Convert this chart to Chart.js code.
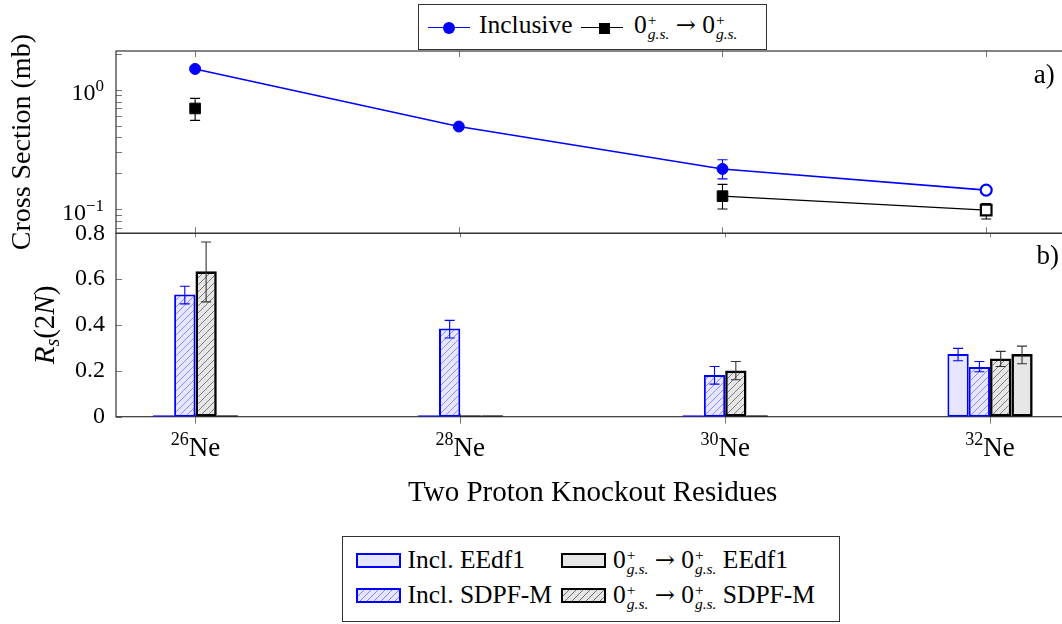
<!DOCTYPE html>
<html>
<head>
<meta charset="utf-8">
<title>Two proton knockout - Ne isotopes</title>
<script src="https://cdn.jsdelivr.net/npm/chart.js@4/dist/chart.umd.min.js"></script>
<style>
  html, body { margin: 0; padding: 0; background: #fff; overflow: hidden; }
  body { width: 1062px; height: 624px; position: relative; font-family: "Liberation Serif", serif; color: #000; }
  canvas { position: absolute; left: 0; top: 0; }
  .legend { position: absolute; box-sizing: border-box; border: 1px solid #333; background: #fff; font-size: 25.5px; }
  #legendTop { left: 418px; top: 4px; width: 349px; height: 46px; }
  #legendBottom { left: 342px; top: 536px; width: 498px; height: 86px; }
  .legend .txt { position: absolute; white-space: nowrap; line-height: 28px; height: 28px; }
  .legend .ln { position: absolute; height: 0; width: 42px; border-top: 1.8px solid; }
  .legend .mk { position: absolute; box-sizing: border-box; }
  .legend .sw { position: absolute; box-sizing: border-box; width: 45px; height: 15px; }
  .ss { display: inline-block; vertical-align: -6px; font-size: 15.5px; line-height: 14px; margin-left: 1px; }
  .ss span { display: block; }
  .arr { font-family: "DejaVu Serif", serif; font-size: 24px; }
</style>
</head>
<body>
<canvas id="panelA" width="1075" height="624"></canvas>
<canvas id="panelB" width="1075" height="624"></canvas>
<div id="legendTop" class="legend"></div>
<div id="legendBottom" class="legend"></div>
<script>
// ---- data ----
var massNumbers = [26, 28, 30, 32];
var element = "Ne";

// a) cross sections in mb
var inclusive   = [1.50, 0.494, 0.218, 0.145];
var inclusiveLo = [null, null, 0.180, null];
var inclusiveHi = [null, null, 0.260, null];
var gsToGs      = [0.70, null, 0.129, 0.0986];
var gsToGsLo    = [0.556, null, 0.1007, 0.083];
var gsToGsHi    = [0.85, null, 0.162, 0.112];
var openMarker  = [false, false, false, true];
var lineLabels  = ["Inclusive", "0+g.s. \u2192 0+g.s."];

// b) R_s(2N)
var inclEEdf1   = [0, 0, 0, 0.273];
var inclEEdf1Lo = [null, null, null, 0.244];
var inclEEdf1Hi = [null, null, null, 0.298];
var inclSDPFM   = [0.533, 0.385, 0.182, 0.217];
var inclSDPFMLo = [0.492, 0.343, 0.142, 0.196];
var inclSDPFMHi = [0.569, 0.420, 0.219, 0.241];
var gsSDPFM     = [0.634, 0, 0.201, 0.254];
var gsSDPFMLo   = [0.501, null, 0.161, 0.219];
var gsSDPFMHi   = [0.762, null, 0.241, 0.285];
var gsEEdf1     = [0, 0, 0, 0.273];
var gsEEdf1Lo   = [null, null, null, 0.231];
var gsEEdf1Hi   = [null, null, null, 0.308];
var barLabels   = ["Incl. EEdf1", "Incl. SDPF-M", "0+g.s. \u2192 0+g.s. SDPF-M", "0+g.s. \u2192 0+g.s. EEdf1"];

// axes
var xRange = [25.4, 32.6];
var sigmaRange = [0.063, 2.12];
var sigmaTickLabels = [1, 0.1];
var rsRange = [0, 0.8];
var rsStep = 0.2;

// ---- helpers ----
var FONT = '"Liberation Serif", serif';
Chart.defaults.font.family = FONT;
Chart.defaults.color = "#000";

function points(vals) {
    return massNumbers.map(function (m, i) { return { x: m, y: vals[i] }; });
}

function hatch(bg, line) {
    var c = document.createElement("canvas");
    c.width = c.height = 7;
    var g = c.getContext("2d");
    g.fillStyle = bg;
    g.fillRect(0, 0, 7, 7);
    g.strokeStyle = line;
    g.lineWidth = 0.9;
    g.beginPath();
    g.moveTo(-1, 8); g.lineTo(8, -1);
    g.moveTo(-1, 1); g.lineTo(1, -1);
    g.moveTo(6, 8); g.lineTo(8, 6);
    g.stroke();
    return g.createPattern(c, "repeat");
}

function richText(ctx, parts, x, y, align) {
    var total = 0, widths = [];
    parts.forEach(function (p) {
        ctx.font = (p.it ? "italic " : "") + p.s + "px " + FONT;
        var w = ctx.measureText(p.t).width;
        widths.push(w);
        total += w;
    });
    var cx = align === "center" ? x - total / 2 : (align === "right" ? x - total : x);
    ctx.textAlign = "left";
    ctx.textBaseline = "alphabetic";
    parts.forEach(function (p, i) {
        ctx.font = (p.it ? "italic " : "") + p.s + "px " + FONT;
        ctx.fillText(p.t, cx, y + (p.dy || 0));
        cx += widths[i];
    });
}

function drawErrors(chart) {
    var ctx = chart.ctx;
    chart.data.datasets.forEach(function (ds, i) {
        if (!ds.errLo) return;
        var meta = chart.getDatasetMeta(i), ys = meta.vScale;
        ctx.save();
        ctx.strokeStyle = ds.errColor;
        ctx.lineWidth = 1.1;
        ctx.beginPath();
        meta.data.forEach(function (el, j) {
            if (ds.errLo[j] == null) return;
            var x = el.x, y1 = ys.getPixelForValue(ds.errLo[j]), y2 = ys.getPixelForValue(ds.errHi[j]);
            ctx.moveTo(x, y1); ctx.lineTo(x, y2);
            ctx.moveTo(x - 5, y1); ctx.lineTo(x + 5, y1);
            ctx.moveTo(x - 5, y2); ctx.lineTo(x + 5, y2);
        });
        ctx.stroke();
        ctx.restore();
    });
}

var errorBars = {
    id: "errorBars",
    beforeDatasetsDraw: function (chart, args, opts) { if (!opts.onTop) drawErrors(chart); },
    afterDatasetsDraw: function (chart, args, opts) { if (opts.onTop) drawErrors(chart); }
};

function frame(chart) {
    var ctx = chart.ctx, a = chart.chartArea;
    ctx.save();
    ctx.strokeStyle = "#333";
    ctx.lineWidth = 1.2;
    ctx.strokeRect(a.left, a.top, a.right - a.left, a.bottom - a.top);
    ctx.restore();
}

// top panel: ticks, frame, labels
var panelADecor = {
    id: "panelADecor",
    beforeDatasetsDraw: function (chart) {
        var ctx = chart.ctx, a = chart.chartArea, xs = chart.scales.x, ys = chart.scales.y;
        ctx.save();
        ctx.strokeStyle = "#777";
        ctx.lineWidth = 1;
        ctx.beginPath();
        massNumbers.forEach(function (m) {
            var px = Math.round(xs.getPixelForValue(m)) + 0.5;
            ctx.moveTo(px, a.top); ctx.lineTo(px, a.top + 6);
            ctx.moveTo(px, a.bottom); ctx.lineTo(px, a.bottom - 6);
        });
        for (var d = -2; d <= 0; d++) {
            for (var k = 1; k <= 9; k++) {
                var v = k * Math.pow(10, d);
                if (v < ys.min || v > ys.max) continue;
                var py = Math.round(ys.getPixelForValue(v)) + 0.5;
                ctx.moveTo(a.left, py); ctx.lineTo(a.left + 6, py);
            }
        }
        ctx.stroke();
        ctx.restore();
    },
    afterDraw: function (chart) {
        var ctx = chart.ctx, a = chart.chartArea, ys = chart.scales.y;
        frame(chart);
        ctx.save();
        ctx.fillStyle = "#000";
        sigmaTickLabels.forEach(function (v) {
            var e = Math.round(Math.log10(v));
            var py = ys.getPixelForValue(v);
            richText(ctx, [
                { t: "10", s: 24 },
                { t: (e < 0 ? "\u2212" + (-e) : "" + e), s: 17, dy: -9 }
            ], a.left - 12, py + 10.5, "right");
        });
        ctx.font = "28px " + FONT;
        ctx.textAlign = "center";
        ctx.textBaseline = "alphabetic";
        ctx.save();
        ctx.translate(30, (a.top + a.bottom) / 2);
        ctx.rotate(-Math.PI / 2);
        ctx.fillText("Cross Section (mb)", 0, 0);
        ctx.restore();
        ctx.font = "27px " + FONT;
        ctx.textAlign = "right";
        ctx.fillText("a)", a.right - 10.5, a.top + 32);
        ctx.restore();
    }
};

// bottom panel: ticks, frame, labels
var panelBDecor = {
    id: "panelBDecor",
    beforeDatasetsDraw: function (chart) {
        var ctx = chart.ctx, a = chart.chartArea, xs = chart.scales.x, ys = chart.scales.y;
        ctx.save();
        ctx.strokeStyle = "#777";
        ctx.lineWidth = 1;
        ctx.beginPath();
        massNumbers.forEach(function (m) {
            var px = Math.round(xs.getPixelForValue(m)) + 0.5;
            ctx.moveTo(px, a.top); ctx.lineTo(px, a.top + 4);
            ctx.moveTo(px, a.bottom - 3); ctx.lineTo(px, a.bottom + 7);
        });
        ys.ticks.forEach(function (t) {
            var py = Math.round(ys.getPixelForValue(t.value)) + 0.5;
            ctx.moveTo(a.left, py); ctx.lineTo(a.left + 6, py);
        });
        ctx.stroke();
        ctx.restore();
        frame(chart);
    },
    afterDraw: function (chart) {
        var ctx = chart.ctx, a = chart.chartArea, xs = chart.scales.x;
        ctx.save();
        ctx.fillStyle = "#000";
        massNumbers.forEach(function (m) {
            richText(ctx, [
                { t: "" + m, s: 18, dy: -11 },
                { t: element, s: 27 }
            ], xs.getPixelForValue(m), a.bottom + 39.5, "center");
        });
        ctx.font = "29px " + FONT;
        ctx.textAlign = "center";
        ctx.textBaseline = "alphabetic";
        ctx.fillText("Two Proton Knockout Residues", (a.left + a.right) / 2, a.bottom + 84);
        ctx.save();
        ctx.translate(54, (a.top + a.bottom) / 2);
        ctx.rotate(-Math.PI / 2);
        richText(ctx, [
            { t: "R", s: 29, it: true },
            { t: "s", s: 20, it: true, dy: 5 },
            { t: "(2", s: 29 },
            { t: "N", s: 29, it: true },
            { t: ")", s: 29 }
        ], 0, 0, "center");
        ctx.restore();
        ctx.font = "27px " + FONT;
        ctx.textAlign = "right";
        ctx.fillText("b)", a.right - 10.5, a.top + 31);
        ctx.restore();
    }
};

// ---- top chart ----
var blue = "#0000ff";

var chartA = new Chart(document.getElementById("panelA").getContext("2d"), {
    type: "line",
    data: {
        datasets: [{
            label: lineLabels[0],
            data: points(inclusive),
            borderColor: blue,
            borderWidth: 1.6,
            pointStyle: "circle",
            pointRadius: 5.5,
            pointBorderColor: blue,
            pointBorderWidth: function (c) { return openMarker[c.dataIndex] ? 2.2 : 1; },
            pointBackgroundColor: function (c) { return openMarker[c.dataIndex] ? "#fff" : blue; },
            errLo: inclusiveLo, errHi: inclusiveHi, errColor: blue
        }, {
            label: lineLabels[1],
            data: points(gsToGs),
            borderColor: "#000",
            borderWidth: 1.4,
            pointStyle: "rect",
            pointRadius: 7.5,
            pointBorderColor: "#000",
            pointBorderWidth: function (c) { return openMarker[c.dataIndex] ? 2.2 : 1; },
            pointBackgroundColor: function (c) { return openMarker[c.dataIndex] ? "#fff" : "#000"; },
            errLo: gsToGsLo, errHi: gsToGsHi, errColor: "#000"
        }]
    },
    options: {
        responsive: false,
        animation: false,
        events: [],
        layout: { padding: { left: 116, right: 5.5, top: 51, bottom: 624 - 233.3 } },
        scales: {
            x: { type: "linear", min: xRange[0], max: xRange[1], display: false },
            y: { type: "logarithmic", min: sigmaRange[0], max: sigmaRange[1], display: false }
        },
        plugins: {
            legend: { display: false },
            tooltip: { enabled: false },
            errorBars: { onTop: false }
        }
    },
    plugins: [errorBars, panelADecor]
});

// ---- bottom chart ----
var ctxB = document.getElementById("panelB").getContext("2d");
var barSets = [
    { vals: inclEEdf1, lo: inclEEdf1Lo, hi: inclEEdf1Hi, bg: "#e6e6ff", border: blue, bw: 2 },
    { vals: inclSDPFM, lo: inclSDPFMLo, hi: inclSDPFMHi, bg: hatch("#e6e6ff", "#8080ff"), border: blue, bw: 2 },
    { vals: gsSDPFM, lo: gsSDPFMLo, hi: gsSDPFMHi, bg: hatch("#e6e6e6", "#707070"), border: "#000", bw: 2.6 },
    { vals: gsEEdf1, lo: gsEEdf1Lo, hi: gsEEdf1Hi, bg: "#e6e6e6", border: "#000", bw: 2.6 }
];

var chartB = new Chart(ctxB, {
    type: "bar",
    data: {
        datasets: barSets.map(function (b, i) {
            return {
                label: barLabels[i],
                data: points(b.vals),
                backgroundColor: b.bg,
                borderColor: b.border,
                borderWidth: b.bw,
                borderSkipped: false,
                minBarLength: 1.5,
                categoryPercentage: 0.322,
                barPercentage: 1,
                errLo: b.lo, errHi: b.hi,
                errColor: b.border === blue ? blue : "#333"
            };
        })
    },
    options: {
        responsive: false,
        animation: false,
        events: [],
        layout: { padding: { left: 0, right: 5.5, top: 233.3, bottom: 624 - 416.7 } },
        scales: {
            x: {
                type: "linear", min: xRange[0], max: xRange[1], offset: false, display: false,
                afterBuildTicks: function (s) { s.ticks = massNumbers.map(function (m) { return { value: m }; }); }
            },
            y: {
                min: rsRange[0], max: rsRange[1],
                ticks: { stepSize: rsStep, padding: 11, color: "#000", font: { family: FONT, size: 24 } },
                grid: { display: false, drawTicks: false },
                border: { display: false },
                afterFit: function (s) { s.width = 116; }
            }
        },
        plugins: {
            legend: { display: false },
            tooltip: { enabled: false },
            errorBars: { onTop: true }
        }
    },
    plugins: [errorBars, panelBDecor]
});

// ---- HTML legends (sub/superscripts) ----
function labelHtml(s) {
    return s.split("0+g.s.").join('0<span class="ss"><span>+</span><span><i>g.s.</i></span></span>')
            .split("\u2192").join('<span class="arr">\u2192</span>');
}

var legTop = document.getElementById("legendTop");
var topSlots = [{ ln: 9, mk: 24, tx: 60 }, { ln: 162, mk: 180, tx: 215 }];
chartA.data.datasets.forEach(function (ds, i) {
    var s = topSlots[i];
    var round = ds.pointStyle === "circle";
    var size = round ? 12 : 11;
    legTop.insertAdjacentHTML("beforeend",
        '<div class="ln" style="left:' + s.ln + 'px;top:22.1px;border-color:' + ds.borderColor + '"></div>' +
        '<div class="mk" style="left:' + s.mk + 'px;top:' + (23 - size / 2) + 'px;width:' + size + 'px;height:' + size +
        'px;background:' + ds.borderColor + ';border-radius:' + (round ? '50%' : '0') + '"></div>' +
        '<div class="txt" style="left:' + s.tx + 'px;top:6px">' + labelHtml(ds.label) + '</div>');
});

var legBottom = document.getElementById("legendBottom");
var bottomSlots = [{ x: 12.5, row: 0 }, { x: 12.5, row: 1 }, { x: 218, row: 1 }, { x: 218, row: 0 }];
var swatchCss = [
    "background:#e6e6ff;border:2px solid #0000ff",
    "background:repeating-linear-gradient(135deg,#e6e6ff 0px,#e6e6ff 3.9px,#8080ff 3.9px,#8080ff 4.9px);border:2px solid #0000ff",
    "background:repeating-linear-gradient(135deg,#e6e6e6 0px,#e6e6e6 3.9px,#707070 3.9px,#707070 4.9px);border:2.5px solid #000",
    "background:#e6e6e6;border:2.5px solid #000"
];
chartB.data.datasets.forEach(function (ds, i) {
    var s = bottomSlots[i];
    var swTop = s.row === 0 ? 15.5 : 51;
    var txTop = s.row === 0 ? 8.6 : 43.6;
    legBottom.insertAdjacentHTML("beforeend",
        '<div class="sw" style="left:' + s.x + 'px;top:' + swTop + 'px;' + swatchCss[i] + '"></div>' +
        '<div class="txt" style="left:' + (s.x + 52) + 'px;top:' + txTop + 'px">' + labelHtml(ds.label) + '</div>');
});
</script>
</body>
</html>
